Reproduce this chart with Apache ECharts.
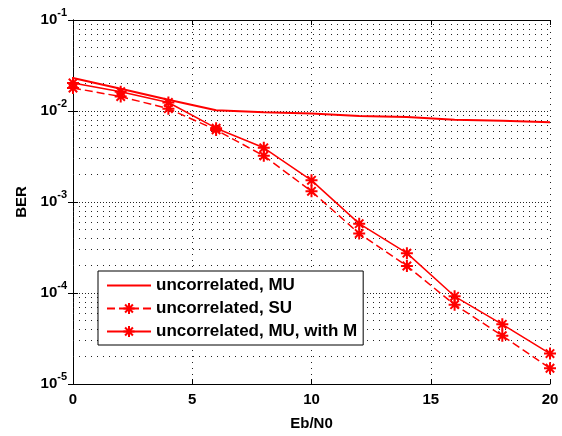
<!DOCTYPE html>
<html>
<head>
<meta charset="utf-8">
<script src="https://cdn.jsdelivr.net/npm/echarts@6/dist/echarts.min.js"></script>
<style>
  html, body { margin: 0; padding: 0; background: #fff; }
  #chart { width: 562px; height: 436px; }
</style>
</head>
<body>
<div id="chart"></div>
<script>
// Eb/N0 points (dB)
var ebn0 = [0, 2, 4, 6, 8, 10, 12, 14, 16, 18, 20]
// BER curves
var berMU = [0.023, 0.0176, 0.0133, 0.0102, 0.0097, 0.0094, 0.0088, 0.0086, 0.0080, 0.0078, 0.0075]
var berSU = [0.0179, 0.0144, 0.0106, 0.0062, 0.00322, 0.00131, 4.5e-4, 1.98e-4, 7.45e-5, 3.39e-5, 1.49e-5]
var berMUwithM = [0.0203, 0.0163, 0.0124, 0.00647, 0.00394, 0.00173, 5.78e-4, 2.74e-4, 9.2e-5, 4.53e-5, 2.16e-5]
var seriesNames = ['uncorrelated, MU', 'uncorrelated, SU', 'uncorrelated, MU, with M']
// minor log grid: 2..9 x each decade
var decades = [1e-5, 1e-4, 1e-3, 1e-2]
var minorFactors = [2, 3, 4, 5, 6, 7, 8, 9]

;(function () {
  var myChart = echarts.init(document.getElementById('chart'))
  var font = 'Liberation Sans, Arial, sans-serif'
  var star = 'path://M6,0L6,12M0,6L12,6M1.8,1.8L10.2,10.2M10.2,1.8L1.8,10.2'

  function pairs(ys) {
    return ebn0.map(function (x, i) { return [x, ys[i]] })
  }

  var minorLines = []
  decades.forEach(function (d) {
    minorFactors.forEach(function (f) {
      minorLines.push({ yAxis: d * f })
    })
  })

  // MATLAB style dotted grid
  var dotted = { color: '#222', width: 1, type: [1, 5] }

  var option = {
    animation: false,
    color: ['#ff0000'],
    textStyle: { fontFamily: font },
    grid: { left: 73, right: 12, top: 20, bottom: 46 },
    legend: {
      orient: 'vertical',
      left: 98,
      top: 271,
      padding: [6, 6, 5, 8],
      itemWidth: 44,
      itemHeight: 14,
      itemGap: 6,
      backgroundColor: '#fff',
      borderColor: '#000',
      borderWidth: 1,
      borderRadius: 0,
      textStyle: { fontSize: 17, fontWeight: 'bold', color: '#000', fontFamily: font },
      data: [
        { name: seriesNames[0], itemStyle: { opacity: 0 } },
        seriesNames[1],
        seriesNames[2]
      ]
    },
    xAxis: [
      {
        type: 'value',
        min: 0,
        max: 20,
        interval: 5,
        name: 'Eb/N0',
        nameLocation: 'middle',
        nameGap: 32,
        nameTextStyle: { fontSize: 15, fontWeight: 'bold', color: '#000' },
        axisLine: { lineStyle: { color: '#000', width: 1 } },
        axisTick: { inside: true, length: 5, lineStyle: { color: '#000' } },
        axisLabel: { fontSize: 15, fontWeight: 'bold', color: '#000', margin: 8 },
        splitLine: { show: true, lineStyle: dotted }
      },
      {
        type: 'value',
        position: 'top',
        min: 0,
        max: 20,
        interval: 5,
        axisLine: { lineStyle: { color: '#000', width: 1 } },
        axisTick: { inside: true, length: 5, lineStyle: { color: '#000' } },
        axisLabel: { show: false },
        splitLine: { show: false }
      }
    ],
    yAxis: [
      {
        type: 'log',
        logBase: 10,
        min: 1e-5,
        max: 1e-1,
        splitNumber: 4,
        name: 'BER',
        nameLocation: 'middle',
        nameGap: 44,
        nameTextStyle: { fontSize: 15, fontWeight: 'bold', color: '#000' },
        axisLine: { lineStyle: { color: '#000', width: 1 } },
        axisTick: { inside: true, length: 5, lineStyle: { color: '#000' } },
        axisLabel: {
          margin: 6,
          formatter: function (v) {
            return '{a|10}{b|' + Math.round(Math.log10(v)) + '}'
          },
          rich: {
            a: { fontSize: 15, fontWeight: 'bold', color: '#000', fontFamily: font },
            b: { fontSize: 11, fontWeight: 'bold', color: '#000', fontFamily: font, padding: [0, 0, 14, 0] }
          }
        },
        splitLine: { show: true, lineStyle: { color: '#222', width: 1, type: [1, 2] } }
      },
      {
        type: 'log',
        logBase: 10,
        position: 'right',
        min: 1e-5,
        max: 1e-1,
        splitNumber: 4,
        axisLine: { lineStyle: { color: '#000', width: 1 } },
        axisTick: { inside: true, length: 5, lineStyle: { color: '#000' } },
        axisLabel: { show: false },
        splitLine: { show: false }
      }
    ],
    series: [
      {
        name: seriesNames[0],
        type: 'line',
        data: pairs(berMU),
        symbol: 'none',
        lineStyle: { color: '#ff0000', width: 2 },
        markLine: {
          silent: true,
          z: 1,
          precision: 10,
          symbol: 'none',
          label: { show: false },
          lineStyle: dotted,
          data: minorLines
        }
      },
      {
        name: seriesNames[1],
        type: 'line',
        data: pairs(berSU),
        symbol: star,
        symbolSize: 12,
        lineStyle: { color: '#ff0000', width: 1.5, type: [8, 4] },
        itemStyle: { color: '#ff0000', borderColor: '#ff0000', borderWidth: 2 }
      },
      {
        name: seriesNames[2],
        type: 'line',
        data: pairs(berMUwithM),
        symbol: star,
        symbolSize: 12,
        lineStyle: { color: '#ff0000', width: 1.5 },
        itemStyle: { color: '#ff0000', borderColor: '#ff0000', borderWidth: 2 }
      }
    ]
  }

  myChart.setOption(option)
})()
</script>
</body>
</html>
